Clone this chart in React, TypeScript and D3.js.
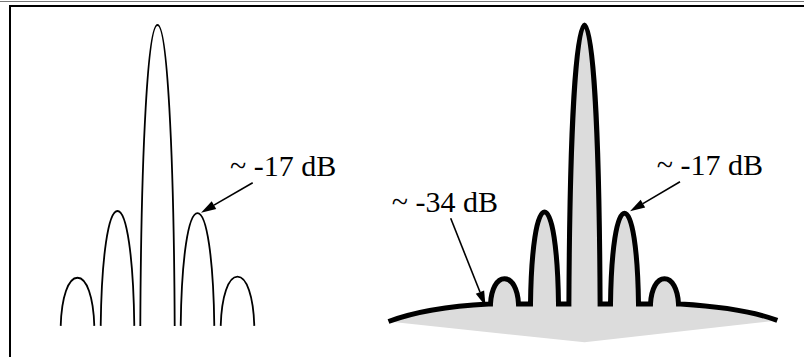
import React, { useEffect, useRef } from 'react';
import * as d3 from 'd3';

// lobe positions (in lobe-spacing units) and peak levels in dB
const lobePos = [-2, -1, 0, 1, 2];
const leftPeakDb = [-23.1, -17.0, 0, -17.2, -23.0];
const leftHalfWidth = [0.42, 0.42, 0.43, 0.42, 0.42];
const leftBaseDb = -27.5;

const rightPeakDb = [-23.2, -17.1, 0, -17.2, -23.2];
const rightHalfWidth = [0.35, 0.35, 0.39, 0.35, 0.35];
const rightBaseDb = -25.5;

// floor under the tapered pattern [pos, dB]
const floorLeft: [number, number][] = [[-4.9, -27.1], [-3.8, -26.05], [-2.4, -25.5]];
const floorRight: [number, number][] = [[2.4, -25.5], [3.8, -26.05], [4.82, -27.0]];
const fillApex: [number, number] = [0, -29.0];

const labels = ['~ -17 dB', '~ -17 dB', '~ -34 dB'];

const W = 804, H = 357;

const App = () => {
  const svgRef = useRef<SVGSVGElement>(null);

  useEffect(() => {
    const svg = d3.select(svgRef.current);
    svg.selectAll('*').remove();

    const y = d3.scaleLinear().domain([0, -17]).range([25, 211]);
    const xL = d3.scaleLinear().domain([-1, 1]).range([117.5, 197.5]);
    const xR = d3.scaleLinear().domain([-1, 1]).range([544.5, 624.5]);

    // frame
    svg.append('line').attr('x1', 0).attr('x2', W).attr('y1', 1.5).attr('y2', 1.5)
      .attr('stroke', '#777').attr('stroke-width', 1);
    svg.append('rect').attr('x', 10).attr('y', 6).attr('width', W + 20).attr('height', H + 20)
      .attr('fill', 'none').attr('stroke', '#000').attr('stroke-width', 2);

    const arch = (p: d3.Path, xc: number, hw: number, yb: number, yp: number) => {
      const h = yb - yp;
      p.bezierCurveTo(xc - hw + 0.05 * hw, yb - 0.6 * h, xc - 0.55 * hw, yp, xc, yp);
      p.bezierCurveTo(xc + 0.55 * hw, yp, xc + hw - 0.05 * hw, yb - 0.6 * h, xc + hw, yb);
    };

    // left: uniform aperture, separate lobes
    const gl = svg.append('g');
    lobePos.forEach((pos, i) => {
      const p = d3.path();
      const hw = xL(leftHalfWidth[i]) - xL(0);
      const yb = y(leftBaseDb);
      p.moveTo(xL(pos) - hw, yb);
      arch(p, xL(pos), hw, yb, y(leftPeakDb[i]));
      gl.append('path').attr('d', p.toString()).attr('fill', 'none')
        .attr('stroke', '#000').attr('stroke-width', 1.8);
    });

    // right: tapered aperture, one continuous outline
    const quad = (p: d3.Path, pts: [number, number][]) => {
      const a = [xR(pts[0][0]), y(pts[0][1])];
      const m = [xR(pts[1][0]), y(pts[1][1])];
      const b = [xR(pts[2][0]), y(pts[2][1])];
      const cx = 2 * m[0] - (a[0] + b[0]) / 2;
      const cy = 2 * m[1] - (a[1] + b[1]) / 2;
      p.quadraticCurveTo(cx, cy, b[0], b[1]);
    };
    const outline = (closed: boolean) => {
      const p = d3.path();
      p.moveTo(xR(floorLeft[0][0]), y(floorLeft[0][1]));
      quad(p, floorLeft);
      const yb = y(rightBaseDb);
      lobePos.forEach((pos, i) => {
        const hw = xR(rightHalfWidth[i]) - xR(0);
        p.lineTo(xR(pos) - hw, yb);
        arch(p, xR(pos), hw, yb, y(rightPeakDb[i]));
      });
      p.lineTo(xR(floorRight[0][0]), y(floorRight[0][1]));
      quad(p, floorRight);
      if (closed) {
        p.lineTo(xR(fillApex[0]), y(fillApex[1]));
        p.closePath();
      }
      return p.toString();
    };
    svg.append('path').attr('d', outline(true)).attr('fill', '#dcdcdc').attr('stroke', 'none');
    svg.append('path').attr('d', outline(false)).attr('fill', 'none')
      .attr('stroke', '#000').attr('stroke-width', 5).attr('stroke-linejoin', 'miter');

    // annotations
    const notes = [
      { text: labels[0], tx: 230, ty: 176, from: [252.7, 182.7], to: [xL(1) + 3.5, y(-17.2) - 0.5] },
      { text: labels[1], tx: 656.7, ty: 175, from: [680, 181.7], to: [xR(1) + 5.5, y(-17.2) - 2] },
      { text: labels[2], tx: 391.7, ty: 211.5, from: [450.7, 218.3], to: [xR(-2) - (xR(0.35) - xR(0)) - 5, y(rightBaseDb) + 2] },
    ];
    notes.forEach(n => {
      svg.append('text').attr('x', n.tx).attr('y', n.ty).text(n.text)
        .style('font-family', "'Liberation Serif', serif")
        .style('font-size', '30px').attr('fill', '#000');
      const [x1, y1] = n.from, [x2, y2] = n.to;
      const ang = Math.atan2(y2 - y1, x2 - x1);
      const len = 15, hwid = 4.5;
      const bx = x2 - len * Math.cos(ang), by = y2 - len * Math.sin(ang);
      svg.append('line').attr('x1', x1).attr('y1', y1).attr('x2', bx).attr('y2', by)
        .attr('stroke', '#000').attr('stroke-width', 1.6);
      const px = -Math.sin(ang) * hwid, py = Math.cos(ang) * hwid;
      svg.append('polygon')
        .attr('points', `${x2},${y2} ${bx + px},${by + py} ${bx - px},${by - py}`)
        .attr('fill', '#000');
    });
  }, []);

  return (
    <svg ref={svgRef} width={W} height={H}
      style={{ position: 'absolute', left: 0, top: 0, background: '#fff' }} />
  );
};

export default App;
